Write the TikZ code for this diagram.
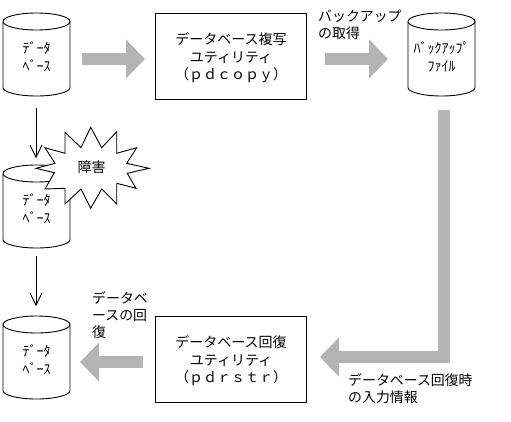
\documentclass[tikz,border=0pt]{standalone}
\usepackage{fontspec}
\setmainfont{Noto Sans CJK JP}
\usetikzlibrary{arrows.meta}
\definecolor{fatgrey}{HTML}{B4B4B4}
\tikzset{
  dbtext/.style={inner sep=0pt,minimum width=67pt,minimum height=60pt,align=center,font=\fontsize{14}{18}\selectfont},
  dbline/.style={draw=black,line width=0.9pt,fill=white},
  toolbox/.style={draw=black,line width=0.9pt,minimum width=151.5pt,minimum height=86pt,inner sep=0pt,align=center,font=\fontsize{14}{17.5}\selectfont},
  note/.style={inner sep=0pt,align=left,anchor=north west,font=\fontsize{13.9}{17}\selectfont},
  fat/.style={draw=fatgrey,line width=12pt,-{Triangle[length=19pt,width=38pt,fill=fatgrey]}},
  thinarrow/.style={draw=black,line width=0.8pt,-{Straight Barb[length=12pt,width=12pt]}},
  burst/.style={draw=black,line width=0.9pt,fill=white,line join=miter}
}
% name, top-centre position of the drum, text
\newcommand{\storagedrum}[3]{%
  \begin{scope}[shift={(#2)}]
    \draw[dbline] (-33.5,8.5) -- (-33.5,74.5) arc[start angle=180,end angle=360,x radius=33.5pt,y radius=8.5pt] -- (33.5,8.5);
    \draw[dbline] (0,8.5) ellipse[x radius=33.5pt,y radius=8.5pt];
    \node[dbtext] (#1) at (0,44) {#3};
  \end{scope}}
\newcommand{\boxstrut}{\rule{0pt}{16pt}}
\begin{document}
\begin{tikzpicture}[x=1pt,y=-1pt]
\useasboundingbox (0,0) rectangle (511,421);
% storage
\storagedrum{db1}{36.5,13}{ﾃﾞｰﾀ\\ﾍﾞｰｽ}
\storagedrum{db2}{36.5,165}{ﾃﾞｰﾀ\\ﾍﾞｰｽ}
\storagedrum{db3}{36.5,316}{ﾃﾞｰﾀ\\ﾍﾞｰｽ}
\storagedrum{bk}{441.5,13}{ﾊﾞｯｸｱｯﾌﾟ\\ﾌｧｲﾙ}
% tools
\node[toolbox] (copy) at (231,56) {\boxstrut データベース複写\\ユティリティ\\（ｐｄｃｏｐｙ）};
\node[toolbox] (rstr) at (231,359) {\boxstrut データベース回復\\ユティリティ\\（ｐｄｒｓｔｒ）};
% free ends
\coordinate (a1s) at (82,59);   \coordinate (a1e) at (145,59);
\coordinate (a2s) at (325,59);  \coordinate (a2e) at (388,59);
\coordinate (a3s) at (443.5,110); \coordinate (a3e) at (320,357);
\coordinate (a4s) at (143,362); \coordinate (a4e) at (80,362);
\coordinate (t1s) at (36,108);  \coordinate (t1e) at (36,158);
\coordinate (t2s) at (36,256);  \coordinate (t2e) at (36,306);
% connectors
\draw[fat] (a1s) -- (a1e);
\draw[fat] (a2s) -- (a2e);
\draw[fat] (a3s) |- (a3e);
\draw[fat] (a4s) -- (a4e);
\draw[thinarrow] (t1s) -- (t1e);
\draw[thinarrow] (t2s) -- (t2e);
% failure burst
\draw[burst] (149,168.3) -- (127.3,173.3) -- (136,188.3) -- (116.7,183.3) -- (116.7,204) -- (101.7,189) -- (90.7,208.3) -- (81,189) -- (65,204) -- (65,188.3) -- (45,189) -- (54.3,172.7) -- (36,168.3) -- (55,163.3) -- (45,147.7) -- (65,153.3) -- (65,132.3) -- (81,147.7) -- (90.7,127.3) -- (101.7,147.7) -- (116.7,131.7) -- (116.7,153.3) -- (136.7,147.7) -- (126.7,163.3) -- cycle;
\node[inner sep=0pt,font=\fontsize{14}{16}\selectfont] (fail) at (91.5,167) {障害};
% labels
\node[note] (n1) at (318,10) {バックアップ\\の取得};
\node[note] (n2) at (92,291) {データベ\\ースの回\\復};
\node[note] (n3) at (348,373) {データベース回復時\\の入力情報};
\end{tikzpicture}
\end{document}
